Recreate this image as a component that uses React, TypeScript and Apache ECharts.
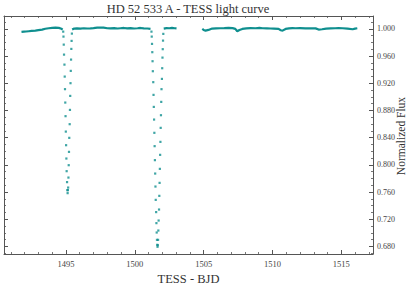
import React, { useEffect, useRef } from "react";
import * as echarts from "echarts";

// ---- Data ----
const titleText = "HD 52 533 A - TESS light curve";
const xName = "TESS - BJD";
const yName = "Normalized Flux";

const xMajorTicks = [1495, 1500, 1505, 1510, 1515];
const xMinorTicks = [1491, 1492, 1493, 1494, 1496, 1497, 1498, 1499, 1501, 1502, 1503, 1504, 1506, 1507, 1508, 1509, 1511, 1512, 1513, 1514, 1516, 1517];
const yMajorTicks = [0.68, 0.72, 0.76, 0.8, 0.84, 0.88, 0.92, 0.96, 1.0];
const yMinorTicks = [0.67, 0.69, 0.7, 0.71, 0.73, 0.74, 0.75, 0.77, 0.78, 0.79, 0.81, 0.82, 0.83, 0.85, 0.86, 0.87, 0.89, 0.9, 0.91, 0.93, 0.94, 0.95, 0.97, 0.98, 0.99, 1.01];

// Out-of-eclipse baseline, segment by segment
const seg1Time = [1491.77, 1491.95, 1492.1, 1492.3, 1492.5, 1492.78, 1493.0, 1493.27, 1493.5, 1493.75, 1494.0, 1494.24, 1494.48, 1494.67, 1494.76];
const seg1Flux = [0.9956, 0.996, 0.9962, 0.9966, 0.997, 0.9975, 0.9982, 0.999, 1.0002, 1.001, 1.0016, 1.002, 1.0015, 1.0002, 0.999];

const seg2Time = [1495.45, 1495.6, 1495.8, 1496.05, 1496.3, 1496.55, 1496.78, 1497.0, 1497.27, 1497.5, 1497.73, 1498.0, 1498.23, 1498.5, 1498.75, 1498.96, 1499.2, 1499.45, 1499.69, 1499.95, 1500.2, 1500.41, 1500.65, 1500.92, 1501.14];
const seg2Flux = [0.999, 1.0005, 1.0008, 1.0005, 1.001, 1.0006, 1.0008, 1.0012, 1.002, 1.0018, 1.002, 1.001, 1.0008, 1.0012, 1.0006, 1.001, 1.0014, 1.0008, 1.0012, 1.0006, 1.001, 1.0014, 1.0008, 1.0006, 1.0];

const seg3Time = [1502.1, 1502.3, 1502.5, 1502.7, 1502.9, 1503.03];
const seg3Flux = [1.0005, 1.0012, 1.001, 1.0014, 1.001, 1.0008];

const seg4Time = [1504.9, 1505.0, 1505.14, 1505.35, 1505.62, 1505.9, 1506.2, 1506.5, 1506.81, 1507.1, 1507.3, 1507.44, 1507.6, 1507.81, 1508.1, 1508.4, 1508.77, 1509.05, 1509.28, 1509.6, 1509.86, 1510.1, 1510.44, 1510.6, 1510.73, 1510.95, 1511.2, 1511.45, 1511.68, 1512.0, 1512.4, 1512.75, 1513.13, 1513.35, 1513.6, 1513.9, 1514.22, 1514.55, 1514.8, 1515.09, 1515.45, 1515.82, 1516.0, 1516.16];
const seg4Flux = [1.0, 0.9985, 0.9975, 0.9985, 1.0005, 1.0008, 1.001, 1.0012, 1.0015, 1.0012, 1.0, 0.9966, 0.9985, 1.0, 1.0008, 1.0012, 1.001, 1.0014, 1.001, 1.0008, 1.0006, 1.0004, 1.0, 0.998, 0.9975, 1.0, 1.0008, 1.0012, 1.001, 1.0012, 1.0008, 1.001, 1.0008, 0.999, 0.9995, 1.0005, 1.0008, 1.001, 1.0012, 1.001, 1.0005, 0.9995, 1.0005, 1.001];

// Eclipse points (30-min cadence)
const ecl1Time = [1494.8, 1494.82, 1494.84, 1494.86, 1494.89, 1494.91, 1494.93, 1494.95, 1494.97, 1494.99, 1495.01, 1495.03, 1495.05, 1495.08, 1495.1, 1495.12, 1495.14, 1495.16, 1495.18, 1495.2, 1495.22, 1495.24, 1495.27, 1495.29, 1495.31, 1495.33, 1495.35, 1495.37, 1495.39, 1495.41, 1495.43];
const ecl1Flux = [0.996, 0.9887, 0.9769, 0.9622, 0.9475, 0.9299, 0.9114, 0.8917, 0.8717, 0.849, 0.829, 0.8094, 0.7908, 0.7747, 0.7629, 0.7585, 0.7629, 0.7667, 0.7814, 0.7996, 0.8192, 0.8398, 0.8599, 0.8809, 0.9015, 0.9202, 0.9383, 0.9549, 0.9706, 0.9824, 0.9931];

const ecl2Time = [1501.21, 1501.23, 1501.25, 1501.27, 1501.29, 1501.31, 1501.34, 1501.36, 1501.38, 1501.4, 1501.42, 1501.44, 1501.46, 1501.48, 1501.5, 1501.52, 1501.55, 1501.57, 1501.59, 1501.61, 1501.63, 1501.65, 1501.67, 1501.69, 1501.71, 1501.73, 1501.76, 1501.78, 1501.8, 1501.82, 1501.84, 1501.86, 1501.88, 1501.9, 1501.92, 1501.94, 1501.97, 1501.99, 1502.01, 1502.03, 1502.05, 1502.07];
const ecl2Flux = [0.996, 0.9887, 0.978, 0.9658, 0.9525, 0.9378, 0.9217, 0.903, 0.8853, 0.8667, 0.8472, 0.8276, 0.807, 0.7873, 0.7682, 0.7486, 0.7306, 0.7144, 0.7006, 0.6898, 0.6825, 0.6796, 0.682, 0.6898, 0.7035, 0.7182, 0.7344, 0.7545, 0.7736, 0.7942, 0.8148, 0.8339, 0.8545, 0.8731, 0.8927, 0.9114, 0.9265, 0.9422, 0.9578, 0.9702, 0.9828, 0.9927];

const X_MIN = 1490.5;
const X_MAX = 1517.3;
const Y_MIN = 0.669;
const Y_MAX = 1.019;

const COLOR = "#0f8f8f";
const AXIS = "#555";
const FONT = "Liberation Serif";

const zip = (a: number[], b: number[]) => a.map((v, i) => [v, b[i]]);

export default function App() {
  const ref = useRef<HTMLDivElement>(null);
  useEffect(() => {
    if (!ref.current) return;
    const chart = echarts.init(ref.current, undefined, { renderer: "svg" });

    const xBase = (extra: any) => ({
      type: "value",
      min: X_MIN,
      max: X_MAX,
      splitLine: { show: false },
      axisLine: { show: false, onZero: false, lineStyle: { color: AXIS, width: 1 } },
      axisLabel: { show: false },
      axisTick: { show: false },
      ...extra,
    });
    const yBase = (extra: any) => ({
      type: "value",
      min: Y_MIN,
      max: Y_MAX,
      splitLine: { show: false },
      axisLine: { show: false, onZero: false, lineStyle: { color: AXIS, width: 1 } },
      axisLabel: { show: false },
      axisTick: { show: false },
      ...extra,
    });

    const majorTick = (vals: number[]) => ({ show: true, inside: true, length: 4, customValues: vals, lineStyle: { color: AXIS, width: 1 } });
    const minorTick = (vals: number[]) => ({ show: true, inside: true, length: 2, customValues: vals, lineStyle: { color: AXIS, width: 0.8 } });

    const lineSeries = (t: number[], f: number[]) => ({
      type: "line",
      data: zip(t, f),
      showSymbol: false,
      symbol: "none",
      lineStyle: { color: COLOR, width: 2.2 },
      xAxisIndex: 0,
      yAxisIndex: 0,
      z: 3,
    });
    const dotSeries = (t: number[], f: number[]) => ({
      type: "scatter",
      data: zip(t, f),
      symbol: "rect",
      symbolSize: 2.2,
      itemStyle: { color: COLOR },
      xAxisIndex: 0,
      yAxisIndex: 0,
      z: 4,
    });

    chart.setOption({
      animation: false,
      backgroundColor: "#ffffff",
      title: {
        text: titleText,
        left: 188,
        top: 2,
        padding: 0,
        textAlign: "center",
        textStyle: { fontFamily: FONT, fontWeight: "normal", fontSize: 12.5, color: "#333" },
      },
      graphic: [
        {
          type: "text",
          x: 401,
          y: 136,
          rotation: Math.PI / 2,
          style: {
            text: yName,
            fontFamily: FONT,
            fontSize: 11.5,
            fill: "#333",
            textAlign: "center",
            textVerticalAlign: "middle",
          },
        },
      ],
      grid: { left: 4, right: 38, top: 16, bottom: 31, containLabel: false, outerBoundsMode: "none" },
      xAxis: [
        xBase({
          position: "bottom",
          axisLine: { show: true, onZero: false, lineStyle: { color: AXIS, width: 1 } },
          axisTick: majorTick(xMajorTicks),
          axisLabel: {
            show: true,
            customValues: xMajorTicks,
            margin: 5,
            fontFamily: FONT,
            fontSize: 8.5,
            color: "#444",
            formatter: (v: number) => String(Math.round(v)),
          },
          name: xName,
          nameLocation: "middle",
          nameGap: 13,
          nameTextStyle: { fontFamily: FONT, fontSize: 12.5, color: "#333" },
        }),
        xBase({ position: "bottom", axisTick: minorTick(xMinorTicks) }),
        xBase({
          position: "top",
          axisLine: { show: true, onZero: false, lineStyle: { color: AXIS, width: 1 } },
          axisTick: majorTick(xMajorTicks),
        }),
        xBase({ position: "top", axisTick: minorTick(xMinorTicks) }),
      ],
      yAxis: [
        yBase({
          position: "right",
          axisLine: { show: true, onZero: false, lineStyle: { color: AXIS, width: 1 } },
          axisTick: majorTick(yMajorTicks),
          axisLabel: {
            show: true,
            customValues: yMajorTicks,
            margin: 4,
            fontFamily: FONT,
            fontSize: 8,
            color: "#444",
            formatter: (v: number) => v.toFixed(3),
          },
        }),
        yBase({ position: "right", axisTick: minorTick(yMinorTicks) }),
        yBase({
          position: "left",
          axisLine: { show: true, onZero: false, lineStyle: { color: AXIS, width: 1 } },
          axisTick: majorTick(yMajorTicks),
        }),
        yBase({ position: "left", axisTick: minorTick(yMinorTicks) }),
      ],
      series: [
        lineSeries(seg1Time, seg1Flux),
        lineSeries(seg2Time, seg2Flux),
        lineSeries(seg3Time, seg3Flux),
        lineSeries(seg4Time, seg4Flux),
        dotSeries(ecl1Time, ecl1Flux),
        dotSeries(ecl2Time, ecl2Flux),
      ],
    });
    return () => chart.dispose();
  }, []);
  return <div ref={ref} style={{ position: "fixed", left: 0, top: 0, width: 411, height: 285 }} />;
}
